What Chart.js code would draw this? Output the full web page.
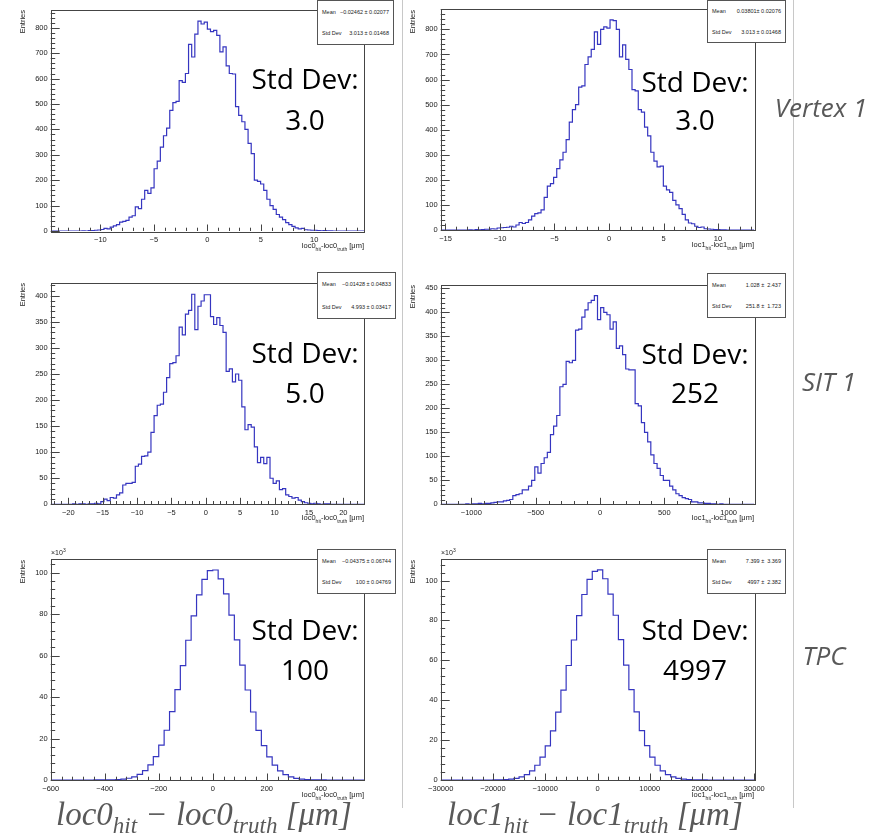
<!DOCTYPE html>
<html>
<head>
<meta charset="utf-8">
<script src="https://cdn.jsdelivr.net/npm/chart.js@4.4.1/dist/chart.umd.min.js"></script>
<style>
body { margin: 0; background: #fff; }
#page { position: relative; width: 877px; height: 835px; overflow: hidden; background: #fff; font-family: 'Liberation Sans', Arial, sans-serif; }
#page canvas { position: absolute; }
.stat { position: absolute; background: #fff; border: 1px solid #555; box-sizing: border-box; font-size: 5.5px; color: #222; display: flex; flex-direction: column; justify-content: space-around; padding: 0 4px; }
.stat div { display: flex; justify-content: space-between; white-space: pre; }
.xt { position: absolute; font-size: 7.5px; line-height: 9px; color: #222; white-space: nowrap; }
.xt sub { font-size: 5px; line-height: 0; }
.yt { position: absolute; font-size: 7.5px; line-height: 8px; color: #222; writing-mode: vertical-rl; transform: rotate(180deg); white-space: nowrap; }
.exp { position: absolute; font-size: 7px; line-height: 8px; color: #222; }
.exp sup { font-size: 5px; line-height: 0; }
.big { position: absolute; font-family: 'Open Sans'; font-size: 28px; line-height: 28px; color: #000; transform: translateX(-50%); white-space: nowrap; }
.row { position: absolute; font-family: 'Open Sans'; font-style: italic; font-size: 26px; line-height: 26px; color: #595959; white-space: nowrap; transform: translateX(-50%); }
.bot { position: absolute; font-family: 'Liberation Serif'; font-style: italic; font-size: 33px; line-height: 33px; color: #595959; white-space: nowrap; }
.bot sub { font-size: 23px; line-height: 0; }
.sep { position: absolute; width: 1px; top: 0; height: 808px; background: #c8c8c8; }
</style>
</head>
<body>
<div id="page">
  <div class="sep" style="left:402px"></div>
  <div class="sep" style="left:793px"></div>

  <canvas id="c1" width="400" height="262" style="left:0;top:0"></canvas>
  <canvas id="c2" width="400" height="262" style="left:400px;top:0"></canvas>
  <canvas id="c3" width="400" height="262" style="left:0;top:270px"></canvas>
  <canvas id="c4" width="400" height="262" style="left:400px;top:270px"></canvas>
  <canvas id="c5" width="400" height="262" style="left:0;top:540px"></canvas>
  <canvas id="c6" width="400" height="262" style="left:400px;top:540px"></canvas>

  <!-- stat boxes -->
  <div class="stat" style="left:317px;top:0;width:77px;height:45px"><div><span>Mean</span><span>−0.02462 ± 0.02077</span></div><div><span>Std Dev</span><span>3.013 ± 0.01468</span></div></div>
  <div class="stat" style="left:707px;top:0;width:79px;height:43px"><div><span>Mean</span><span>0.03801± 0.02076</span></div><div><span>Std Dev</span><span>3.013 ± 0.01468</span></div></div>
  <div class="stat" style="left:317px;top:272px;width:79px;height:47px"><div><span>Mean</span><span>−0.01428 ± 0.04833</span></div><div><span>Std Dev</span><span>4.993 ± 0.03417</span></div></div>
  <div class="stat" style="left:707px;top:273px;width:79px;height:45px"><div><span>Mean</span><span>1.028 ±  2.437</span></div><div><span>Std Dev</span><span>251.8 ±  1.723</span></div></div>
  <div class="stat" style="left:317px;top:549px;width:79px;height:45px"><div><span>Mean</span><span>−0.04375 ± 0.06744</span></div><div><span>Std Dev</span><span>100 ± 0.04769</span></div></div>
  <div class="stat" style="left:707px;top:549px;width:79px;height:45px"><div><span>Mean</span><span>7.399 ±  3.369</span></div><div><span>Std Dev</span><span>4997 ±  2.382</span></div></div>

  <!-- axis titles -->
  <div class="xt" style="right:513px;top:241px">loc0<sub>hit</sub>-loc0<sub>truth</sub> [μm]</div>
  <div class="xt" style="right:123px;top:240px">loc1<sub>hit</sub>-loc1<sub>truth</sub> [μm]</div>
  <div class="xt" style="right:513px;top:513px">loc0<sub>hit</sub>-loc0<sub>truth</sub> [μm]</div>
  <div class="xt" style="right:123px;top:513px">loc1<sub>hit</sub>-loc1<sub>truth</sub> [μm]</div>
  <div class="xt" style="right:513px;top:790px">loc0<sub>hit</sub>-loc0<sub>truth</sub> [μm]</div>
  <div class="xt" style="right:123px;top:790px">loc1<sub>hit</sub>-loc1<sub>truth</sub> [μm]</div>

  <div class="yt" style="left:19px;top:10px">Entries</div>
  <div class="yt" style="left:409px;top:10px">Entries</div>
  <div class="yt" style="left:19px;top:283px">Entries</div>
  <div class="yt" style="left:409px;top:285px">Entries</div>
  <div class="yt" style="left:19px;top:560px">Entries</div>
  <div class="yt" style="left:409px;top:560px">Entries</div>

  <div class="exp" style="left:51px;top:549px">×10<sup>3</sup></div>
  <div class="exp" style="left:441px;top:549px">×10<sup>3</sup></div>

  <!-- resolution annotations -->
  <div class="big" style="left:305px;top:64px">Std Dev:</div>
  <div class="big" style="left:305px;top:105px">3.0</div>
  <div class="big" style="left:695px;top:67px">Std Dev:</div>
  <div class="big" style="left:695px;top:105px">3.0</div>
  <div class="big" style="left:305px;top:338px">Std Dev:</div>
  <div class="big" style="left:305px;top:378px">5.0</div>
  <div class="big" style="left:695px;top:339px">Std Dev:</div>
  <div class="big" style="left:695px;top:378px">252</div>
  <div class="big" style="left:305px;top:615px">Std Dev:</div>
  <div class="big" style="left:305px;top:655px">100</div>
  <div class="big" style="left:695px;top:615px">Std Dev:</div>
  <div class="big" style="left:695px;top:655px">4997</div>

  <div class="row" style="left:821px;top:94px">Vertex 1</div>
  <div class="row" style="left:829px;top:368px">SIT 1</div>
  <div class="row" style="left:824px;top:642px">TPC</div>

  <div class="bot" style="left:56px;top:798px">loc0<sub>hit</sub> − loc0<sub>truth</sub> [μm]</div>
  <div class="bot" style="left:447px;top:798px">loc1<sub>hit</sub> − loc1<sub>truth</sub> [μm]</div>
</div>

<script>
// ---- data ----

// Vertex 1, loc0 residual [um], 100 bins
const vtx0Range = [-14.65, 14.65];
const vtx0Counts = [0, 0, 0, 0, 0, 0, 0, 0, 0, 0,
  1, 0, 2, 2, 3, 4, 6, 10, 8, 15,
  20, 25, 35, 38, 42, 55, 60, 95, 88, 125,
  160, 148, 170, 245, 275, 330, 375, 405, 475, 505,
  510, 592, 585, 620, 735, 685, 775, 826, 815, 822,
  795, 785, 790, 770, 705, 725, 650, 620, 618, 490,
  455, 430, 400, 345, 305, 200, 195, 185, 160, 125,
  100, 85, 65, 55, 45, 33, 25, 18, 12, 8,
  10, 5, 4, 3, 3, 2, 1, 2, 1, 1,
  0, 0, 0, 0, 0, 0, 0, 0, 0, 0];
const vtx0XTicks = [-10, -5, 0, 5, 10];
const vtx0YTicks = [0, 100, 200, 300, 400, 500, 600, 700, 800];

// Vertex 1, loc1 residual [um], 100 bins
const vtx1Range = [-15.44, 13.33];
const vtx1Counts = [0, 0, 0, 0, 0, 0, 0, 0, 0, 1,
  0, 2, 1, 2, 3, 3, 5, 4, 8, 9,
  10, 11, 15, 12, 20, 30, 26, 30, 40, 55,
  65, 68, 80, 130, 175, 185, 210, 245, 280, 310,
  360, 430, 480, 500, 570, 575, 660, 690, 720, 790,
  740, 800, 810, 805, 838, 835, 800, 690, 738, 680,
  640, 560, 555, 480, 470, 410, 375, 310, 275, 252,
  255, 175, 160, 150, 118, 100, 85, 62, 40, 28,
  25, 15, 10, 12, 5, 4, 3, 2, 2, 1,
  1, 0, 0, 0, 0, 0, 0, 0, 0, 0];
const vtx1XTicks = [-15, -10, -5, 0, 5, 10];
const vtx1YTicks = [0, 100, 200, 300, 400, 500, 600, 700, 800];

// SIT 1, loc0 residual [um], 100 bins
const sit0Range = [-22.55, 23.0];
const sit0Counts = [0, 0, 0, 0, 0, 0, 0, 1, 0, 1,
  1, 0, 1, 1, 2, 1, 5, 10, 7, 13,
  12, 18, 22, 37, 40, 40, 42, 73, 77, 92,
  93, 100, 138, 170, 190, 192, 215, 243, 270, 272,
  285, 340, 325, 365, 372, 403, 335, 380, 390, 402,
  402, 360, 345, 358, 343, 330, 255, 260, 235, 250,
  238, 187, 143, 153, 148, 110, 80, 90, 78, 90,
  50, 40, 45, 28, 30, 18, 15, 12, 13, 8,
  5, 3, 2, 1, 2, 1, 0, 1, 1, 0,
  0, 0, 0, 0, 0, 0, 0, 0, 0, 0];
const sit0XTicks = [-20, -15, -10, -5, 0, 5, 10, 15, 20];
const sit0YTicks = [0, 50, 100, 150, 200, 250, 300, 350, 400];

// SIT 1, loc1 residual [um], 100 bins
const sit1Range = [-1238, 1199];
const sit1Counts = [0, 0, 0, 0, 0, 0, 0, 0, 1, 0,
  1, 1, 2, 1, 2, 2, 3, 4, 5, 5,
  7, 8, 10, 18, 20, 22, 30, 30, 38, 50,
  78, 65, 85, 97, 108, 145, 163, 185, 245, 250,
  298, 295, 300, 363, 365, 390, 405, 420, 425, 435,
  385, 410, 400, 395, 365, 380, 325, 330, 312, 282,
  280, 280, 210, 205, 170, 150, 130, 103, 85, 75,
  60, 50, 50, 38, 30, 22, 18, 14, 12, 10,
  5, 5, 3, 3, 2, 2, 1, 1, 0, 1,
  0, 0, 0, 0, 0, 0, 0, 0, 0, 0];
const sit1XTicks = [-1000, -500, 0, 500, 1000];
const sit1YTicks = [0, 50, 100, 150, 200, 250, 300, 350, 400, 450];

// TPC, loc0 residual [um], 20 um bins, entries in thousands
const tpc0Range = [-600, 560];
const tpc0Counts = [0, 0, 0, 0, 0, 0, 0, 0.01, 0.02, 0.03,
  0.06, 0.12, 0.23, 0.45, 0.85, 1.5, 2.7, 4.5, 7.3, 11.3,
  16.8, 24.0, 33.0, 43.6, 55.2, 67.4, 79.2, 89.3, 96.8, 101.0,
  101.3, 97.0, 89.8, 79.5, 67.6, 55.4, 43.4, 32.8, 23.9, 16.6,
  11.2, 7.2, 4.4, 2.6, 1.5, 0.82, 0.44, 0.22, 0.11, 0.05,
  0.02, 0.01, 0, 0, 0, 0, 0, 0];
const tpc0XTicks = [-600, -400, -200, 0, 200, 400];
const tpc0YTicks = [0, 20, 40, 60, 80, 100];

// TPC, loc1 residual [um], 1000 um bins, entries in thousands
const tpc1Range = [-30000, 30000];
const tpc1Counts = [0, 0, 0, 0, 0, 0, 0, 0, 0, 0,
  0.05, 0.1, 0.22, 0.45, 0.86, 1.55, 2.7, 4.6, 7.4, 11.5,
  17.1, 24.6, 34.0, 45.1, 57.4, 70.2, 82.4, 93.0, 100.6, 104.6,
  105.3, 100.9, 93.2, 82.6, 70.4, 57.6, 45.3, 34.2, 24.8, 17.2,
  11.5, 7.4, 4.6, 2.7, 1.55, 0.85, 0.45, 0.23, 0.11, 0.05,
  0.02, 0, 0, 0, 0, 0, 0, 0, 0, 0];
const tpc1XTicks = [-30000, -20000, -10000, 0, 10000, 20000, 30000];
const tpc1YTicks = [0, 20, 40, 60, 80, 100];

Chart.defaults.font.family = "'Liberation Sans', Arial, sans-serif";

// values along an axis every `step`, used for the small ROOT style ticks
function tickValues(min, max, step) {
  const out = [];
  for (let k = Math.ceil(min / step - 1e-9); k * step <= max + 1e-9; k++) out.push(k * step);
  return out;
}

// ROOT like frame: ticks pointing inwards, box drawn over the histogram
const rootFrame = {
  id: 'rootFrame',
  afterDatasetsDraw(chart, args, o) {
    const { ctx, chartArea: a } = chart;
    const sx = chart.scales.x, sy = chart.scales.y;
    const isMajor = (v, list, step) => list.some(m => Math.abs(m - v) < step * 1e-3);
    ctx.save();
    ctx.strokeStyle = '#444';
    ctx.lineWidth = 1;
    ctx.beginPath();
    tickValues(sx.min, sx.max, o.xMinor).forEach(v => {
      const px = Math.round(sx.getPixelForValue(v)) + 0.5;
      const len = isMajor(v, o.xMajor, o.xMinor) ? 6.5 : 3.3;
      ctx.moveTo(px, a.bottom);
      ctx.lineTo(px, a.bottom - len);
    });
    tickValues(sy.min, sy.max, o.yMinor).forEach(v => {
      const py = Math.round(sy.getPixelForValue(v)) + 0.5;
      const len = isMajor(v, o.yMajor, o.yMinor) ? 9 : 4.5;
      ctx.moveTo(a.left, py);
      ctx.lineTo(a.left + len, py);
    });
    ctx.stroke();
    ctx.strokeRect(Math.round(a.left) + 0.5, Math.round(a.top) + 0.5,
      Math.round(a.right - a.left), Math.round(a.bottom - a.top));
    ctx.restore();
  }
};

function label(v) {
  return v < 0 ? '\u2212' + (-v) : String(v);
}

function drawHist(id, range, counts, xTicks, xMinor, yTicks, yMinor, yMax, box) {
  const w = (range[1] - range[0]) / counts.length;
  const pts = counts.map((c, i) => ({ x: range[0] + i * w, y: c }));
  pts.push({ x: range[1], y: counts[counts.length - 1] });

  const tickFont = { size: 7.5 };
  return new Chart(document.getElementById(id), {
    type: 'line',
    data: {
      datasets: [{
        data: pts,
        stepped: 'before',
        borderColor: '#3535c0',
        borderWidth: 1.2,
        pointRadius: 0,
        fill: false
      }]
    },
    options: {
      responsive: false,
      animation: false,
      events: [],
      layout: { autoPadding: false, padding: { left: 0, top: box.top, right: box.right, bottom: 0 } },
      plugins: {
        legend: { display: false },
        tooltip: { enabled: false },
        rootFrame: { xMajor: xTicks, xMinor: xMinor, yMajor: yTicks, yMinor: yMinor }
      },
      scales: {
        x: {
          type: 'linear',
          min: range[0],
          max: range[1],
          bounds: 'data',
          grid: { display: false, drawTicks: false },
          border: { display: false },
          afterBuildTicks: s => { s.ticks = xTicks.map(v => ({ value: v })); },
          afterFit: s => { s.height = box.xh; },
          ticks: { padding: 4, autoSkip: false, maxRotation: 0, font: tickFont, color: '#222', callback: label }
        },
        y: {
          type: 'linear',
          min: 0,
          max: yMax,
          bounds: 'data',
          grid: { display: false, drawTicks: false },
          border: { display: false },
          afterBuildTicks: s => { s.ticks = yTicks.map(v => ({ value: v })); },
          afterFit: s => { s.width = box.yw; },
          ticks: { padding: 3, autoSkip: false, font: tickFont, color: '#222', callback: label }
        }
      }
    },
    plugins: [rootFrame]
  });
}

drawHist('c1', vtx0Range, vtx0Counts, vtx0XTicks, 1, vtx0YTicks, 20, 872, { yw: 50.7, top: 9.5, right: 36, xh: 31 });
drawHist('c2', vtx1Range, vtx1Counts, vtx1XTicks, 1, vtx1YTicks, 20, 880, { yw: 40.7, top: 9.3, right: 45.7, xh: 32 });
drawHist('c3', sit0Range, sit0Counts, sit0XTicks, 1, sit0YTicks, 10, 424, { yw: 50.7, top: 13.3, right: 36, xh: 27.7 });
drawHist('c4', sit1Range, sit1Counts, sit1XTicks, 100, sit1YTicks, 10, 457, { yw: 40.7, top: 15, right: 45.7, xh: 27.7 });
drawHist('c5', tpc0Range, tpc0Counts, tpc0XTicks, 40, tpc0YTicks, 4, 106.6, { yw: 50.7, top: 19, right: 36, xh: 22 });
drawHist('c6', tpc1Range, tpc1Counts, tpc1XTicks, 2000, tpc1YTicks, 4, 110.8, { yw: 40.7, top: 19, right: 45.7, xh: 22 });
</script>
</body>
</html>
